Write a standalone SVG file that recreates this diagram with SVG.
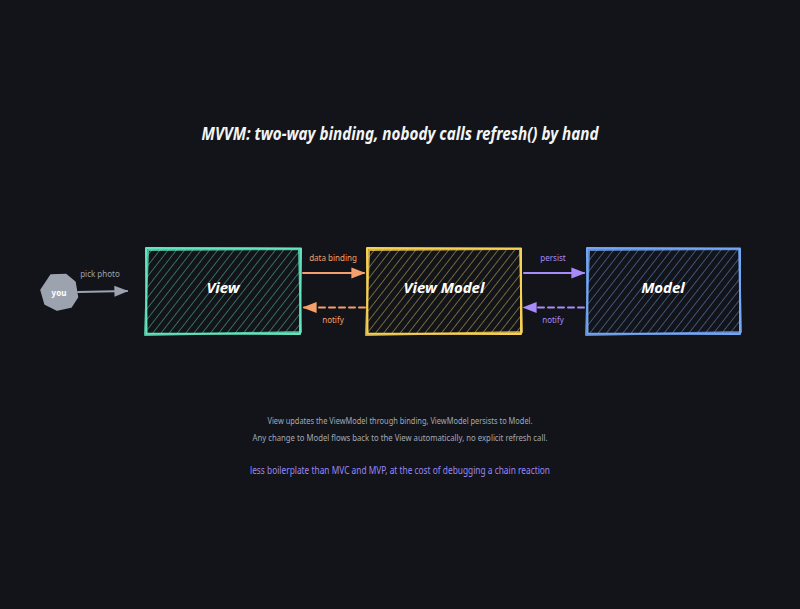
<svg xmlns="http://www.w3.org/2000/svg" width="800" height="609" viewBox="0 0 800 609">
<defs>
<pattern id="hG" width="6.5" height="6.5" patternUnits="userSpaceOnUse" patternTransform="rotate(38)"><line x1="0" y1="0" x2="0" y2="6.5" stroke="#5ccfac" stroke-width="1.1" opacity="0.85"/></pattern>
<pattern id="hY" width="6.5" height="6.5" patternUnits="userSpaceOnUse" patternTransform="rotate(38)"><line x1="0" y1="0" x2="0" y2="6.5" stroke="#e8cf62" stroke-width="1.1" opacity="0.8"/></pattern>
<pattern id="hB" width="6.5" height="6.5" patternUnits="userSpaceOnUse" patternTransform="rotate(38)"><line x1="0" y1="0" x2="0" y2="6.5" stroke="#6a9ce6" stroke-width="1.1" opacity="0.85"/></pattern>
<marker id="aGray" viewBox="0 0 10 10" refX="9" refY="5" markerWidth="7" markerHeight="7" orient="auto-start-reverse"><path d="M0,1 L10,5 L0,9 z" fill="#9ca3af"/></marker>
<marker id="aOr" viewBox="0 0 10 10" refX="9" refY="5" markerWidth="7" markerHeight="7" orient="auto-start-reverse"><path d="M0,1 L10,5 L0,9 z" fill="#f4a06b"/></marker>
<marker id="aPu" viewBox="0 0 10 10" refX="9" refY="5" markerWidth="7" markerHeight="7" orient="auto-start-reverse"><path d="M0,1 L10,5 L0,9 z" fill="#a78bfa"/></marker>
</defs>
<style>
text{font-family:"Noto Sans","Liberation Sans",sans-serif}
.title{font-size:17px;font-weight:700;fill:#f3f4f6;font-style:italic}
.node{font-size:15px;font-weight:700;font-style:italic;fill:#ffffff}
.lbl{font-size:8px}
.body{font-size:9px;fill:#a3a8b4}
.note{font-size:10px;fill:#9b87f5}
.edge{fill:none;stroke-width:2;stroke-linecap:round}
.box{fill:none;stroke-width:2;stroke-linejoin:round}
</style>
<rect x="0" y="0" width="800" height="609" fill="#121419"/>
<text class="title" x="400" y="140" text-anchor="middle" textLength="397" lengthAdjust="spacingAndGlyphs">MVVM: two-way binding, nobody calls refresh() by hand</text>

<g id="you">
<path d="M51,275 L66,274.5 L75,282 L77.5,297 L71,307 L57,310 L45,304 L41,290 Z" fill="#9ca3af" stroke="#9ca3af" stroke-width="1.5" stroke-linejoin="round"/>
<text x="59" y="296" text-anchor="middle" font-size="8" font-weight="700" fill="#ffffff">you</text>
</g>

<g id="view">
<rect x="147" y="249" width="153" height="85" fill="url(#hG)"/>
<path class="box" stroke="#63e6be" d="M146,248 L301,248.5 L300,334 L146.5,333.5 Z"/>
<path class="box" stroke="#63e6be" stroke-width="1.2" d="M148,250 L299,249 L301,332 L145,335 Z" opacity="0.8"/>
<text class="node" x="223" y="293" text-anchor="middle">View</text>
</g>

<g id="viewmodel">
<rect x="368" y="249" width="153" height="85" fill="url(#hY)"/>
<path class="box" stroke="#f7d154" d="M367,248 L521,248.5 L521,334 L367.5,333.5 Z"/>
<path class="box" stroke="#f7d154" stroke-width="1.2" d="M369,250 L520,249 L522,332 L366,335 Z" opacity="0.8"/>
<text class="node" x="444" y="293" text-anchor="middle">View Model</text>
</g>

<g id="model">
<rect x="588" y="249" width="152" height="85" fill="url(#hB)"/>
<path class="box" stroke="#74a7f5" d="M587,248 L740,248.5 L740,334 L587.5,333.5 Z"/>
<path class="box" stroke="#74a7f5" stroke-width="1.2" d="M589,250 L739,249 L741,332 L586,335 Z" opacity="0.8"/>
<text class="node" x="663" y="293" text-anchor="middle">Model</text>
</g>

<g id="connectors">
<path class="edge" stroke="#9ca3af" d="M78,292 L127,291" marker-end="url(#aGray)"/>
<text class="lbl" x="100" y="277" text-anchor="middle" fill="#9ca3af" font-size="6.5">pick photo</text>
<path class="edge" stroke="#f4a06b" d="M303,273 L364,273" marker-end="url(#aOr)"/>
<text class="lbl" x="333" y="261" text-anchor="middle" fill="#f4a06b">data binding</text>
<path class="edge" stroke="#f4a06b" stroke-dasharray="6,4" d="M365,307.5 L304,307.5" marker-end="url(#aOr)"/>
<text class="lbl" x="333" y="323" text-anchor="middle" fill="#f4a06b">notify</text>
<path class="edge" stroke="#a78bfa" d="M524,273 L584,273" marker-end="url(#aPu)"/>
<text class="lbl" x="553" y="261" text-anchor="middle" fill="#a78bfa">persist</text>
<path class="edge" stroke="#a78bfa" stroke-dasharray="6,4" d="M584,307.5 L524,307.5" marker-end="url(#aPu)"/>
<text class="lbl" x="553" y="323" text-anchor="middle" fill="#a78bfa">notify</text>
</g>

<text class="body" x="400" y="424" text-anchor="middle" textLength="265" lengthAdjust="spacingAndGlyphs">View updates the ViewModel through binding, ViewModel persists to Model.</text>
<text class="body" x="400" y="441" text-anchor="middle" textLength="295" lengthAdjust="spacingAndGlyphs">Any change to Model flows back to the View automatically, no explicit refresh call.</text>
<text class="note" x="400" y="474" text-anchor="middle" textLength="300" lengthAdjust="spacingAndGlyphs">less boilerplate than MVC and MVP, at the cost of debugging a chain reaction</text>
</svg>
